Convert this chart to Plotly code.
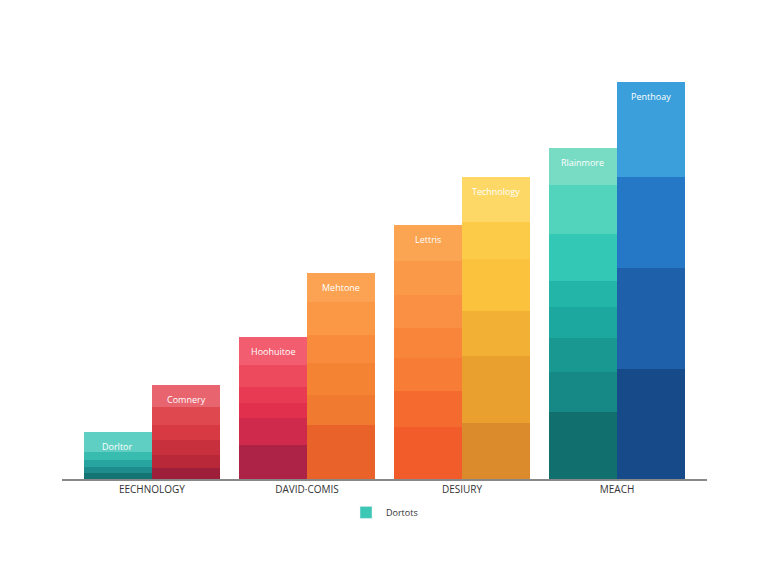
import plotly.graph_objects as go

groups = ["EECHNOLOGY", "DAVID·COMIS", "DESIURY", "MEACH"]
bar_labels = ["Dorltor", "Comnery", "Hoohuitoe", "Mehtone", "Lettris", "Technology", "Rlainmore", "Penthoay"]

# segment heights per bar, bottom to top
segments = [
    [1.5, 1.5, 1.75, 2, 5],
    [2.75, 3.25, 3.75, 3.75, 4.5, 5.5],
    [8.5, 6.75, 3.75, 4, 5.5, 7],
    [13.5, 7.5, 8, 7, 8.25, 7.25],
    [13, 9, 8.25, 7.5, 8.25, 8.5, 9],
    [14, 16.75, 11.25, 13, 9.25, 11.25],
    [16.75, 10, 8.5, 7.75, 6.5, 11.75, 12.25, 9.25],
    [27.5, 25.25, 22.75, 23.75],
]
colors = [
    ["#147474", "#1E8C8C", "#28A4A0", "#38BCB0", "#5ECFC2"],
    ["#9E1F3A", "#B82838", "#C9303E", "#D83A44", "#E04850", "#E8646E"],
    ["#AD2348", "#CF2A4C", "#E0304E", "#E83A52", "#EE4A5E", "#F25E70"],
    ["#E8622A", "#F07A30", "#F58334", "#F98C3C", "#FA9845", "#FBA352"],
    ["#F25C2A", "#F56A2E", "#F77C35", "#F8853A", "#F99043", "#FA9A48", "#FBA552"],
    ["#DB8A2C", "#EAA02E", "#F2B034", "#FBC23E", "#FCCB48", "#FDD866"],
    ["#11706E", "#168885", "#189890", "#1CA89E", "#22B5A8", "#33C8B5", "#52D4BC", "#78DCC4"],
    ["#164A88", "#1E60AA", "#2578C6", "#3A9FDB"],
]
legend_name = "Dortots"

x_pos = [g + d for g in range(len(groups)) for d in (-0.22, 0.22)]

fig = go.Figure()
for i, segs in enumerate(segments):
    base = 0
    for h, c in zip(segs, colors[i]):
        fig.add_trace(go.Bar(x=[x_pos[i]], y=[h], base=[base], width=0.44,
                             marker=dict(color=c, line=dict(width=0)),
                             showlegend=False, hoverinfo="skip"))
        base += h
    fig.add_annotation(x=x_pos[i], y=base - 1.5, text=bar_labels[i], showarrow=False,
                       yanchor="top", font=dict(color="white", size=9, family="Open Sans"))

fig.add_trace(go.Bar(x=[None], y=[None], name=legend_name, marker_color="#3CC8B4"))

fig.update_layout(
    width=768, height=576, barmode="overlay", bargap=0,
    plot_bgcolor="white", paper_bgcolor="white",
    margin=dict(l=54, r=69, t=51, b=105),
    font=dict(family="Open Sans", size=10, color="#333"),
    xaxis=dict(range=[-0.58, 3.58], tickvals=list(range(len(groups))), ticktext=groups,
               showline=True, linecolor="#888", linewidth=1.5, showgrid=False,
               zeroline=False, ticks=""),
    yaxis=dict(range=[0, 105], visible=False),
    legend=dict(orientation="h", x=0.5, xanchor="center", y=-0.045, yanchor="top",
                font=dict(size=9)),
)
fig.write_html("out.html")
